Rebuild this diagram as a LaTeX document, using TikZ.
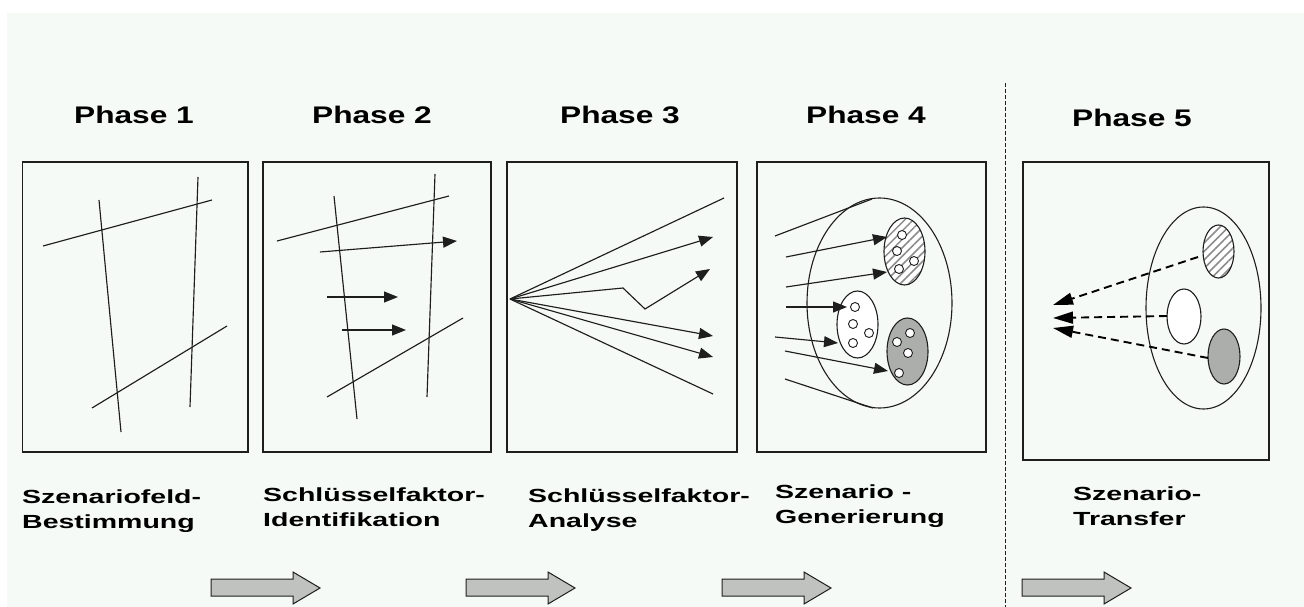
\documentclass[tikz,border=0pt]{standalone}
\usepackage{fontspec}
\setmainfont{Liberation Sans}
\usetikzlibrary{arrows.meta,patterns.meta}
\definecolor{bgc}{RGB}{245,250,247}
\definecolor{ink}{RGB}{30,30,30}
\definecolor{grayfill}{RGB}{172,174,172}
\definecolor{arrowfill}{RGB}{192,194,192}
\definecolor{hatchc}{RGB}{140,140,140}
\newcommand{\strx}[1]{\scalebox{1.5}[1]{#1}}
\newcommand{\strp}[1]{\scalebox{1.32}[1]{#1}}
\tikzset{
  panel/.style={draw=ink, line width=1.4pt},
  ln/.style={draw=ink, line width=1.15pt},
  arr/.style={draw=ink, line width=1.15pt, -{Triangle[length=14pt,width=11pt]}},
  darr/.style={draw=black, line width=1.9pt, dash pattern=on 8pt off 5pt, -{Triangle[length=20pt,width=12pt]}},
  ell/.style={draw=ink, line width=1.1pt},
  dot/.style={draw=ink, line width=0.9pt, fill=white},
  hatch/.style={pattern={Lines[angle=45,distance=6pt,line width=1.5pt]}, pattern color=hatchc},
  blockarrow/.style={draw=ink, line width=1pt, fill=arrowfill},
  phasetitle/.style={anchor=base, inner sep=0pt, font=\fontsize{24}{24}\selectfont\bfseries},
  label/.style={anchor=north west, inner sep=0pt, align=left, font=\fontsize{19}{24.5}\selectfont\bfseries}
}
\begin{document}
\begin{tikzpicture}[x=1pt,y=-1pt]
\useasboundingbox (0,0) rectangle (1304,607);
\fill[white] (0,0) rectangle (1304,607);
\fill[bgc] (7,13) rectangle (1304,607);

% Phase titles
\node[phasetitle] (t1) at (134,124) {\strp{Phase 1}};
\node[phasetitle] (t2) at (372,124) {\strp{Phase 2}};
\node[phasetitle] (t3) at (620,124) {\strp{Phase 3}};
\node[phasetitle] (t4) at (866,124) {\strp{Phase 4}};
\node[phasetitle] (t5) at (1132,127) {\strp{Phase 5}};

% separator
\coordinate (sepT) at (1005,83);
\coordinate (sepB) at (1005,607);
\draw[ink, line width=0.8pt, dash pattern=on 4pt off 2pt] (sepT) -- (sepB);

% Panel 1
\draw[panel] (22.7,162) rectangle (248,452);
\draw[ln] (99,200) -- (121,432);
\draw[ln] (198,177) -- (190,407);
\draw[ln] (43,246) -- (212,200);
\draw[ln] (92,408) -- (227,326);

% Panel 2
\draw[panel] (263,162) rectangle (491,452);
\draw[ln] (334,196) -- (357,419);
\draw[ln] (435,174) -- (427,397);
\draw[ln] (277,241) -- (449,196);
\draw[ln] (327,397) -- (463,318);
\draw[arr] (320,252) -- (457,241);
\draw[arr] (327,297) -- (398,297);
\draw[arr] (342,330) -- (406,330);

% Panel 3
\draw[panel] (507,162) rectangle (737,452);
\coordinate (o3) at (510,299);
\draw[ln] (o3) -- (724,198);
\draw[arr] (o3) -- (713,237);
\draw[arr] (o3) -- (623,288) -- (645,309) -- (710,269);
\draw[arr] (o3) -- (713,336);
\draw[arr] (o3) -- (713,357);
\draw[ln] (o3) -- (713,394);

% Panel 4
\draw[panel] (757,162) rectangle (986,452);
\draw[ell] (879.5,303) ellipse [x radius=72.5, y radius=105];
\draw[ln] (775,236) -- (872,199);
\draw[ln] (785,379) -- (873,408);
\fill[white] (904.5,251.5) ellipse [x radius=20.5, y radius=33.5];
\path[hatch] (904.5,251.5) ellipse [x radius=20.5, y radius=33.5];
\draw[ell] (904.5,251.5) ellipse [x radius=20.5, y radius=33.5];
\draw[ell, fill=white] (857.5,324.5) ellipse [x radius=20.5, y radius=33.5];
\draw[ell, fill=grayfill] (907.5,351.5) ellipse [x radius=20.5, y radius=33.5];
\foreach \p in {(902,235),(897,251),(914,261),(899,269),
                (855,307),(853,324),(869,333),(853,343),
                (910,333),(897,342),(908,353),(899,373)}
  \draw[dot] \p circle [radius=4.5];
\draw[arr] (786,257) -- (887,237);
\draw[arr] (786,287) -- (887,272);
\draw[arr] (786,307) -- (847,307);
\draw[arr] (775,337) -- (838,343);
\draw[arr] (785,351) -- (888,371);

% Panel 5
\draw[panel] (1023,162) rectangle (1269,460);
\draw[ell] (1203.5,308) ellipse [x radius=57.5, y radius=101];
\fill[white] (1218.5,251.5) ellipse [x radius=15.5, y radius=26.5];
\path[hatch] (1218.5,251.5) ellipse [x radius=15.5, y radius=26.5];
\draw[ell] (1218.5,251.5) ellipse [x radius=15.5, y radius=26.5];
\draw[ell, fill=white] (1184,316.5) ellipse [x radius=17, y radius=27.5];
\draw[ell, fill=grayfill] (1224,356.5) ellipse [x radius=16, y radius=27.5];
\draw[darr] (1198,257) -- (1053,305);
\draw[darr] (1167,316) -- (1053,318);
\draw[darr] (1208,358) -- (1053,328);

% Labels
\node[label] (l1) at (22,490) {\strx{Szenariofeld-}\\\strx{Bestimmung}};
\node[label] (l2) at (263,488) {\strx{Schlüsselfaktor-}\\\strx{Identifikation}};
\node[label] (l3) at (528,489) {\strx{Schlüsselfaktor-}\\\strx{Analyse}};
\node[label] (l4) at (775,485) {\strx{Szenario -}\\\strx{Generierung}};
\node[label] (l5) at (1073,487) {\strx{Szenario-}\\\strx{Transfer}};

% Block arrows
\foreach \x in {211,466,722,1022}
  \draw[blockarrow, shift={(\x,0)}] (0,579) -- (82,579) -- (82,572) -- (109,588) -- (82,604) -- (82,596) -- (0,596) -- cycle;
\end{tikzpicture}
\end{document}
